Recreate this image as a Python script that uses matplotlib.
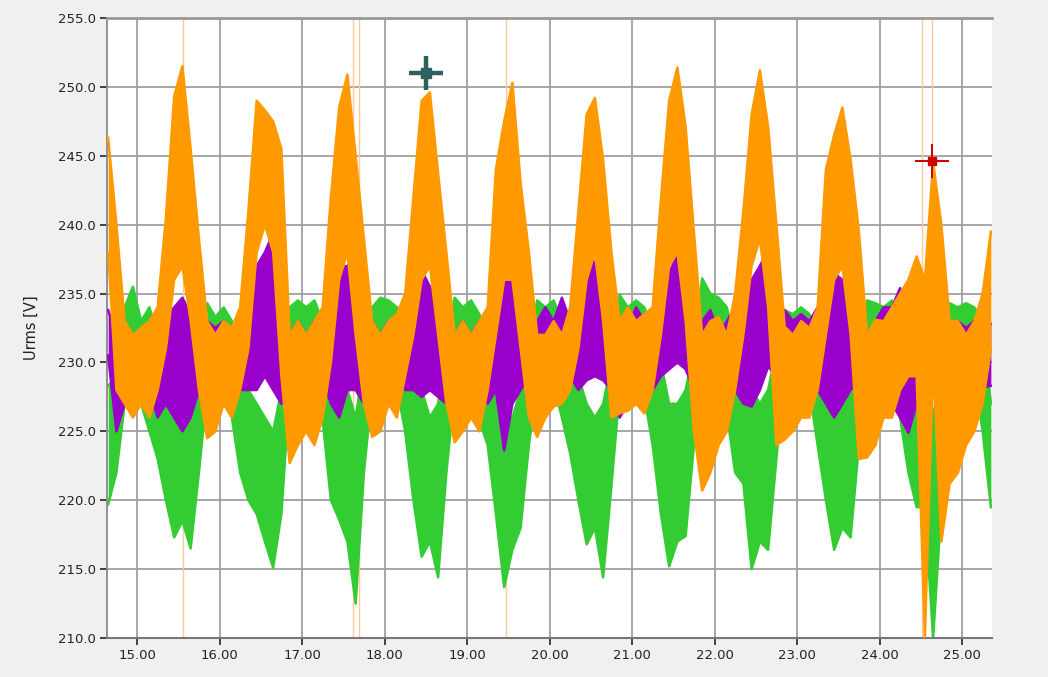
import numpy as np
import matplotlib
matplotlib.use("Agg")
import matplotlib.pyplot as plt

# time axis: one envelope sample every 0.1 starting at 14.65
t_start = 14.65
t_step = 0.1

# envelopes (low, high) for each sample
orange_lo = [238, 228, 227, 226, 227, 226, 228, 231, 236, 237,
             233, 228, 224.5, 225, 227, 226, 228, 231, 238, 240,
             238, 229, 222.7, 224, 225, 224, 226, 230, 236, 238,
             232, 227, 224.6, 225, 227, 226, 229, 232, 236, 237,
             232, 227, 224.2, 225, 226, 225, 228, 232, 236, 236,
             231, 226, 224.6, 226, 226.8, 227, 228, 231, 236, 238,
             233, 226, 226.3, 226.5, 227, 226.3, 228, 232, 237, 238,
             233, 225, 220.7, 222, 224, 225, 228, 232, 237, 239,
             234, 224, 224.4, 225, 226, 226, 228, 232, 236, 237,
             232, 223, 223.1, 224, 226, 226, 228, 229, 229, 210,
             230, 217, 221.2, 222, 224, 225, 227, 231]
orange_hi = [246.3, 240, 233, 232, 232.5, 233, 234, 240.5, 249.3, 251.5,
             245.5, 239, 233, 232, 233, 232.5, 234, 241, 249, 248.3,
             247.5, 245.5, 232, 233, 232, 233, 234, 242, 248.5, 250.9,
             245, 239, 233, 232, 233, 233.5, 235, 242, 249, 249.6,
             243.7, 238, 232, 233, 232, 233, 234, 244, 247.5, 250.3,
             243, 238, 232, 232, 233, 232, 234, 241, 248, 249.2,
             244.7, 238, 233, 234, 233, 233.5, 234, 241.8, 249, 251.4,
             247.1, 239.5, 232, 233, 233.3, 232, 235, 241, 248, 251.2,
             247.1, 240, 232.6, 232, 233, 232.5, 234, 244, 246.5, 248.5,
             244.7, 239.5, 232, 233.1, 233, 234, 235, 236, 237.7, 236,
             244.5, 240, 233, 233, 232, 233, 235, 239.5]

purple_lo = [230.5, 225, 227, 228, 227.5, 228, 226, 227, 226, 225,
             226, 228, 228, 229, 229, 228, 228, 228, 228, 229,
             228, 227, 227.5, 228, 227, 228, 229, 227, 226, 228,
             228, 227, 229, 229, 228.5, 229, 228, 228, 227.5, 228,
             227.5, 227, 228, 227, 228, 229, 227, 228, 223.6, 227,
             228, 229, 229, 228.5, 229, 228.4, 229, 228, 228.7, 229,
             228.7, 228, 226, 227, 228, 227, 228, 229, 229.5, 230,
             229.5, 228, 227.6, 228, 228, 227.6, 228, 227, 226.8, 228,
             229.7, 229, 228.7, 229, 229, 228.7, 228, 227, 226, 227,
             228, 229, 228, 227, 228, 227, 226, 224.9, 227, 228,
             229, 229, 228.2, 228.5, 229, 228.5, 228.2, 228.3]
purple_hi = [233.8, 232, 231, 232, 231.5, 233, 231, 233, 234, 234.7,
             233.5, 234.7, 233, 232.5, 233, 232, 233.5, 236.5, 237, 238,
             239.4, 234, 232, 233, 232, 233, 233.5, 235, 236.9, 237,
             238, 234, 233, 232, 233, 232.5, 233.5, 236, 236.7, 235.5,
             234, 233, 232, 233, 232, 233, 232.5, 235, 236, 236.5,
             237.3, 233.5, 233, 234, 233, 234.7, 233, 235, 238.9, 237,
             236.5, 234, 233, 232.5, 234, 233, 232, 235, 236.5, 237.8,
             236, 234, 233, 233.8, 232, 233, 234, 235, 236, 237,
             238.2, 234, 233.8, 233, 233.5, 233, 234, 235, 236.5, 236,
             235, 233, 232, 233, 234, 234, 235.4, 233, 232, 233,
             236.7, 233, 232, 233, 232.5, 233, 232.5, 232.8]

green_lo = [219.7, 222, 227, 228, 227, 225, 223, 220, 217.3, 218.5,
            216.5, 222, 228, 228.2, 227, 226, 222, 220, 219, 217,
            215.1, 219, 228, 229, 229, 228.7, 225.8, 220, 218.6, 217,
            212.5, 222, 228, 230, 229, 228.2, 225, 220, 215.9, 217,
            214.4, 222, 228, 228, 227, 225.8, 224, 219, 213.7, 216.4,
            218, 224, 228.4, 229, 228.4, 226, 223.4, 220, 216.8, 218,
            214.4, 221, 228, 230, 229, 227.5, 224, 219, 215.2, 217,
            217.4, 224, 228, 229, 228, 226.3, 222, 221.2, 215, 217,
            216.4, 223, 229.5, 229.5, 229, 228, 224, 220, 216.4, 218,
            217.3, 224, 229, 228.8, 229, 228.8, 226, 222, 219.5, 219.5,
            210, 219.5, 228, 229.5, 229.5, 229, 225, 219.5]
green_hi = [228.3, 229, 234, 235.5, 233, 234, 232, 230, 229, 228,
            229, 231, 234.3, 233.3, 234, 233, 231, 228, 227, 226,
            225, 228, 234, 234.5, 234, 234.5, 233, 231, 229, 228,
            226, 230, 234, 234.7, 234.5, 234, 233, 229, 228, 226,
            227, 231, 234.7, 234, 234.5, 233.5, 232, 229, 226, 226,
            228, 231, 234.5, 234, 234.5, 233, 232, 229, 227, 226,
            227, 230, 234.9, 234, 234.5, 234, 232, 230, 227, 227,
            228, 231, 236.1, 235, 234.7, 234, 231, 229, 228, 227,
            228, 231, 233.8, 233.5, 234, 233.5, 232, 230, 228, 227,
            228, 232, 234.5, 234.3, 234, 234.5, 233, 230, 228, 229,
            226, 230, 234.3, 234, 234.3, 234, 233, 227]

# cursor lines and the two crosshair markers
cursor_x = [15.56, 17.62, 17.69, 19.47, 24.515, 24.636]
marker_teal = (18.50, 251.0)
marker_red = (24.636, 244.6)

y_ticks = [210, 215, 220, 225, 230, 235, 240, 245, 250, 255]
x_ticks = [15, 16, 17, 18, 19, 20, 21, 22, 23, 24, 25]

c_orange = "#ff9900"
c_purple = "#9900cc"
c_green = "#33cc33"

fig = plt.figure(figsize=(10.48, 6.77), dpi=100, facecolor="#f0f0f0")
ax = fig.add_axes([0.1021, 0.0576, 0.8445, 0.9158])
ax.set_facecolor("white")

for cx in cursor_x:
    ax.axvline(cx, color="#ffc896", lw=1.0, zorder=1.5)

t = t_start + t_step * np.arange(len(orange_lo))
for lo, hi, col, z in [(green_lo, green_hi, c_green, 2),
                       (purple_lo, purple_hi, c_purple, 3),
                       (orange_lo, orange_hi, c_orange, 4)]:
    ax.fill_between(t, lo, hi, color=col, lw=0, zorder=z)
    ax.plot(t, lo, color=col, lw=1.8, zorder=z)
    ax.plot(t, hi, color=col, lw=1.8, zorder=z)

# crosshairs
ax.plot(*marker_teal, marker="+", ms=25, mew=3.2, color="#2f6060", zorder=6)
ax.plot(*marker_teal, marker="s", ms=7, color="#2f6060", mec="#2f6060", zorder=7)
ax.plot(*marker_red, marker="+", ms=25, mew=1.4, color="#cc0000", zorder=6)
ax.plot(*marker_red, marker="s", ms=6, color="#cc0000", mec="#cc0000", zorder=7)

ax.set_xlim(14.636, 25.364)
ax.set_ylim(210, 255)
ax.set_xticks(x_ticks)
ax.set_yticks(y_ticks)
ax.set_xticklabels(["%.2f" % v for v in x_ticks])
ax.set_yticklabels(["%.1f" % v for v in y_ticks])
ax.grid(True, color="#a0a0a0", lw=1.3, zorder=1)
ax.set_axisbelow(True)

ax.tick_params(axis="both", direction="out", length=5, width=1.3,
               color="#333333", labelsize=9.5, labelcolor="#222222", pad=3)
ax.spines["right"].set_visible(False)
ax.spines["top"].set_color("#999999")
ax.spines["top"].set_linewidth(2)
ax.spines["left"].set_color("#888888")
ax.spines["left"].set_linewidth(1.3)
ax.spines["bottom"].set_color("#777777")
ax.spines["bottom"].set_linewidth(1.5)

ax.set_ylabel("Urms [V]", fontsize=10.5, color="#222222", labelpad=14)

fig.savefig("out.png", dpi=100, facecolor=fig.get_facecolor())
